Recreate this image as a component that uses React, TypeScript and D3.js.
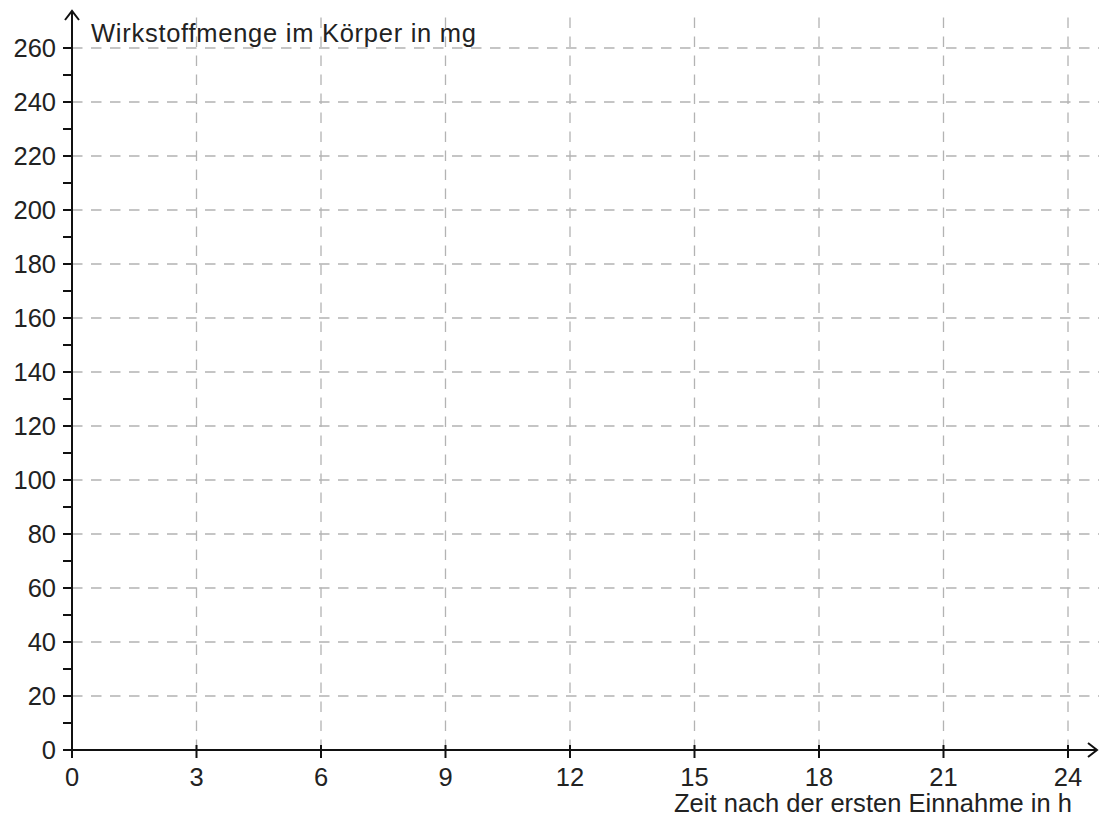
import React from "react";
import * as d3 from "d3";

const xTicks = [0, 3, 6, 9, 12, 15, 18, 21, 24];
const yTicks = [0, 20, 40, 60, 80, 100, 120, 140, 160, 180, 200, 220, 240, 260];
const yMinorTicks = [10, 30, 50, 70, 90, 110, 130, 150, 170, 190, 210, 230, 250];
const yTitle = "Wirkstoffmenge im Körper in mg";
const xTitle = "Zeit nach der ersten Einnahme in h";

const W = 1099;
const H = 818;
const FONT = "'Liberation Sans', Arial, Helvetica, sans-serif";

export default function App() {
  const x = d3.scaleLinear().domain([0, 24]).range([72, 1068]);
  const y = d3.scaleLinear().domain([0, 260]).range([750, 48]);
  const x0 = x(0);
  const y0 = y(0);
  const grid = "#b3b3b3";
  const fs = 25.5;
  return (
    <svg
      width={W}
      height={H}
      style={{ position: "absolute", left: 0, top: 0, background: "#fff" }}
    >
      {xTicks.filter((t) => t > 0).map((t) => (
        <line
          key={"vg" + t}
          x1={x(t)}
          x2={x(t)}
          y1={y0}
          y2={10}
          stroke={grid}
          strokeWidth={1.3}
          strokeDasharray="10.5,8.5"
        />
      ))}
      {yTicks.filter((t) => t > 0).map((t) => (
        <line
          key={"hg" + t}
          x1={x0}
          x2={W}
          y1={y(t)}
          y2={y(t)}
          stroke={grid}
          strokeWidth={1.3}
          strokeDasharray="10.5,8.5"
        />
      ))}
      <line x1={x0} x2={1096} y1={y0} y2={y0} stroke="#111" strokeWidth={2} />
      <line x1={x0} x2={x0} y1={y0 + 8} y2={12} stroke="#111" strokeWidth={2} />
      <polyline
        points={`${1088},${y0 - 7} ${1097},${y0} ${1088},${y0 + 7}`}
        fill="none"
        stroke="#111"
        strokeWidth={2}
      />
      <polyline
        points={`${x0 - 7},${20} ${x0},${11} ${x0 + 7},${20}`}
        fill="none"
        stroke="#111"
        strokeWidth={2}
      />
      {yTicks.map((t) => (
        <line key={"yt" + t} x1={x0 - 9} x2={x0} y1={y(t)} y2={y(t)} stroke="#111" strokeWidth={2} />
      ))}
      {yMinorTicks.map((t) => (
        <line key={"ym" + t} x1={x0 - 9} x2={x0} y1={y(t)} y2={y(t)} stroke="#111" strokeWidth={2} />
      ))}
      {yTicks.map((t) => (
        <text
          key={"yl" + t}
          x={x0 - 16}
          y={y(t)}
          dy="0.36em"
          textAnchor="end"
          fontFamily={FONT}
          fontSize={fs}
          fill="#222"
        >
          {t}
        </text>
      ))}
      {xTicks.map((t) => (
        <line key={"xt" + t} x1={x(t)} x2={x(t)} y1={y0 - 5} y2={y0 + 8} stroke="#111" strokeWidth={2} />
      ))}
      {xTicks.map((t) => (
        <text
          key={"xl" + t}
          x={x(t)}
          y={786}
          textAnchor="middle"
          fontFamily={FONT}
          fontSize={fs}
          fill="#222"
        >
          {t}
        </text>
      ))}
      <text x={91} y={42} fontFamily={FONT} fontSize={fs} fill="#222" textLength={385} lengthAdjust="spacing">
        {yTitle}
      </text>
      <text
        x={1072}
        y={812}
        textAnchor="end"
        fontFamily={FONT}
        fontSize={fs}
        fill="#222"
        textLength={398}
        lengthAdjust="spacing"
      >
        {xTitle}
      </text>
    </svg>
  );
}
